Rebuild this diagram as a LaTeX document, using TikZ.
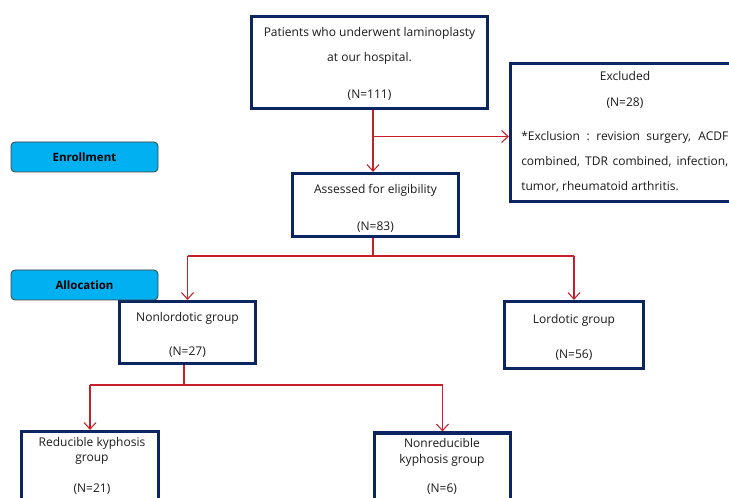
\documentclass[tikz,border=0pt]{standalone}
\usepackage{fontspec}
\setmainfont{Open Sans}
\usetikzlibrary{arrows.meta,calc}
\definecolor{navy}{HTML}{0B2560}
\definecolor{arrowred}{HTML}{C8202A}
\definecolor{stagecyan}{HTML}{00B0F0}
\definecolor{txt}{HTML}{1A1A1A}
\tikzset{
  sz/.style 2 args={minimum width={#1*0.75pt}, minimum height={#2*0.75pt}},
  flowbox/.style={draw=navy, line width=2.3pt, fill=white, inner sep=0pt},
  stage/.style={draw=black!75, line width=0.6pt, fill=stagecyan, rounded corners=3pt, inner sep=0pt,
    font=\fontsize{8.6pt}{10pt}\selectfont\bfseries, text=black},
  lbl/.style={font=\fontsize{9pt}{10pt}\selectfont, text=txt, inner sep=0pt, align=center},
  conn/.style={draw=arrowred, line width=0.8pt},
  arr/.style={conn, -{Straight Barb[length=5pt,width=9pt,line width=0.8pt]}}
}
\begin{document}
\begin{tikzpicture}[x=0.75pt,y=-0.75pt]
\path[use as bounding box] (0,0) rectangle (729,498);
\begin{scope}
\clip (0,0) rectangle (729,498);
% boxes
\node[flowbox, sz={236}{92}] (top) at (369.5,62.5) {};
\node[flowbox, sz={225}{138}] (excl) at (623,132.5) {};
\node[flowbox, sz={166}{63}] (assess) at (375.5,205) {};
\node[flowbox, sz={136}{62}] (nonlord) at (187.5,332.5) {};
\node[flowbox, sz={139}{67}] (lord) at (574,335) {};
\node[flowbox, sz={137}{89}] (reduc) at (90,476) {};
\node[flowbox, sz={136}{87}] (nonreduc) at (442.5,476.5) {};
% stage labels
\node[stage, sz={147}{30}] (enroll) at (84.5,157) {Enrollment};
\node[stage, sz={147}{30}] (alloc) at (84.5,285) {Allocation};
% texts
\node[lbl] (t1) at (369.5,33) {Patients who underwent laminoplasty};
\node[lbl] (t2) at (369.5,58) {at our hospital.};
\node[lbl] (t3) at (369.5,95) {(N=111)};
\node[lbl] (e1) at (625,76) {Excluded};
\node[lbl] (e2) at (625,103) {(N=28)};
\node[lbl, align=justify, text width={207*0.75pt}, anchor=north west,
      font=\fontsize{9pt}{18.75pt}\selectfont] (e3) at (521,131.5) {*Exclusion~:\ revision surgery, ACDF combined, TDR combined, infection, tumor, rheumatoid arthritis.};
\node[lbl] (a1) at (375.5,190) {Assessed for eligibility};
\node[lbl] (a2) at (375.5,227) {(N=83)};
\node[lbl] (n1) at (187.5,318) {Nonlordotic group};
\node[lbl] (n2) at (187.5,352) {(N=27)};
\node[lbl] (l1) at (574,320) {Lordotic group};
\node[lbl] (l2) at (574,355) {(N=56)};
\node[lbl] (r1) at (92,443) {Reducible kyphosis};
\node[lbl] (r2) at (92,460) {group};
\node[lbl] (r3) at (92,489) {(N=21)};
\node[lbl] (q1) at (442,443) {Nonreducible};
\node[lbl] (q2) at (442,460) {kyphosis group};
\node[lbl] (q3) at (442,489) {(N=6)};
% connectors
\coordinate (v1) at (373,0);
\coordinate (ex) at (373,136.5);
\coordinate (s1) at (373,256);
\coordinate (s2) at (184,385);
\draw[arr] (top.south -| v1) -- (assess.north -| v1);
\draw[arr] (ex) -- (ex -| excl.west);
\draw[conn] (assess.south -| s1) -- (s1);
\draw[conn] (s1) -- (s1 -| nonlord.north);
\draw[conn] (s1) -- (s1 -| lord.north);
\draw[arr] (s1 -| nonlord.north) -- (nonlord.north);
\draw[arr] (s1 -| lord.north) -- (lord.north);
\draw[conn] (nonlord.south -| s2) -- (s2);
\draw[conn] (s2) -- (s2 -| reduc.north);
\draw[conn] (s2) -- (s2 -| nonreduc.north);
\draw[arr] (s2 -| reduc.north) -- (reduc.north);
\draw[arr] (s2 -| nonreduc.north) -- (nonreduc.north);
\end{scope}
\end{tikzpicture}
\end{document}
